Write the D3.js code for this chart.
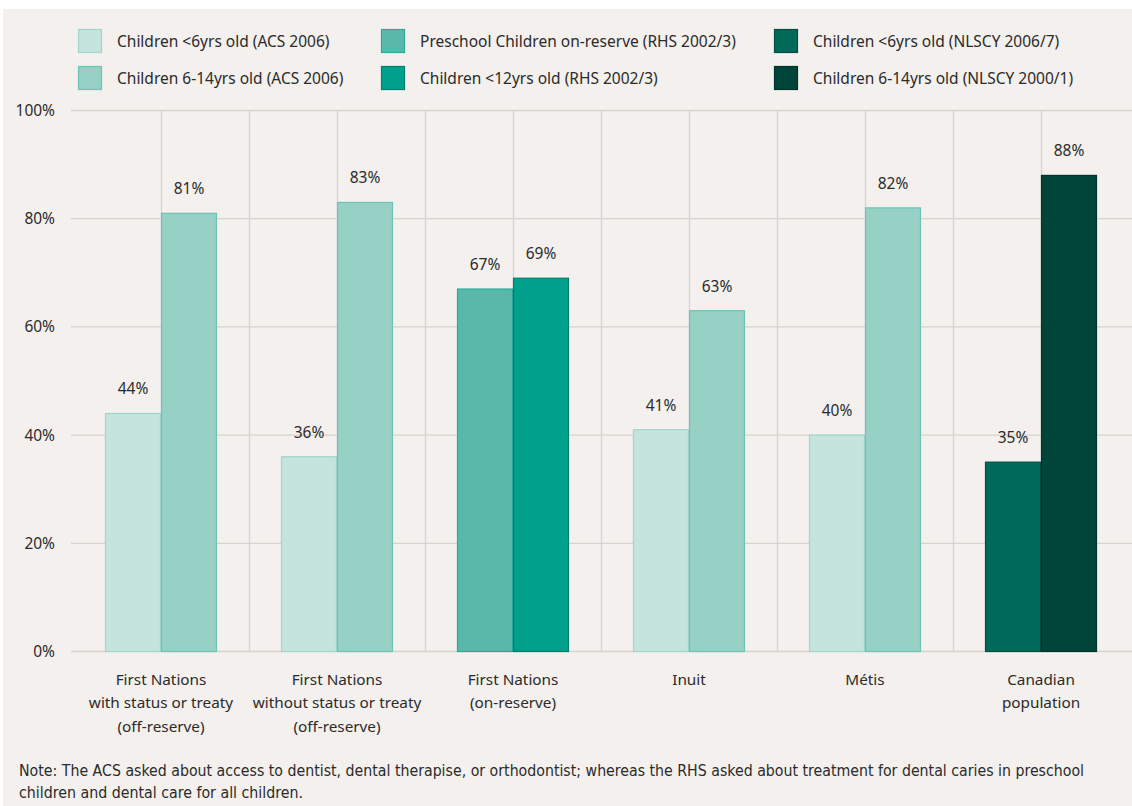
<!DOCTYPE html>
<html>
<head>
<meta charset="utf-8">
<script src="https://cdn.jsdelivr.net/npm/d3@7"></script>
<style>
  body { margin: 0; background: #ffffff; }
  svg text { font-family: "Noto Sans", "Open Sans", sans-serif; fill: #2b2b2b; }
</style>
</head>
<body>
<div id="chart"></div>
<script>
// chart data
var categories = [
  ["First Nations", "with status or treaty", "(off-reserve)"],
  ["First Nations", "without status or treaty", "(off-reserve)"],
  ["First Nations", "(on-reserve)"],
  ["Inuit"],
  ["Métis"],
  ["Canadian", "population"]
];
var seriesNames = [
  "Children <6yrs old (ACS 2006)",
  "Children 6-14yrs old (ACS 2006)",
  "Preschool Children on-reserve (RHS 2002/3)",
  "Children <12yrs old (RHS 2002/3)",
  "Children <6yrs old (NLSCY 2006/7)",
  "Children 6-14yrs old (NLSCY 2000/1)"
];
// which series each bar of a group belongs to
var leftSeries = [0, 0, 2, 0, 0, 4];
var rightSeries = [1, 1, 3, 1, 1, 5];
var leftValues = [44, 36, 67, 41, 40, 35];
var rightValues = [81, 83, 69, 63, 82, 88];
var yTicks = [0, 20, 40, 60, 80, 100];
var noteLines = [
  "Note: The ACS asked about access to dentist, dental therapise, or orthodontist; whereas the RHS asked about treatment for dental caries in preschool",
  "children and dental care for all children."
];

var fills = ["#c5e4dd", "#97d0c5", "#58b9ab", "#00a08c", "#00695a", "#00443a"];
var strokes = ["#9ed7cb", "#6cc4b5", "#2ca999", "#007f6f", "#004f43", "#00342c"];

var width = 1132, height = 806;

var svg = d3.select("#chart")
  .append("svg")
  .attr("width", width)
  .attr("height", height);

// panel background
svg.append("rect")
  .attr("x", 3).attr("y", 9)
  .attr("width", width - 3).attr("height", height - 9)
  .attr("fill", "#f3f0ed");

var ids = d3.range(categories.length);

var x = d3.scaleBand()
  .domain(ids)
  .range([73, 1129]);

var y = d3.scaleLinear()
  .domain([0, 100])
  .range([651.5, 110.5]);

var barW = 56;
var inset = (x.bandwidth() - 2 * barW) / 2;

// horizontal grid
svg.append("g")
  .selectAll("line")
  .data(yTicks)
  .join("line")
  .attr("x1", 71)
  .attr("x2", 1132)
  .attr("y1", function (d) { return y(d); })
  .attr("y2", function (d) { return y(d); })
  .attr("stroke", "#d8d3ce")
  .attr("stroke-width", 1.3);

// vertical grid at band centres and band edges
var vlines = [];
ids.forEach(function (i) {
  vlines.push(x(i) + x.bandwidth() / 2);
  if (i > 0) vlines.push(x(i));
});
svg.append("g")
  .selectAll("line")
  .data(vlines)
  .join("line")
  .attr("x1", function (d) { return d + 0.5; })
  .attr("x2", function (d) { return d + 0.5; })
  .attr("y1", y(100))
  .attr("y2", y(0))
  .attr("stroke", "#d8d3ce")
  .attr("stroke-width", 1.3);

// y axis labels
svg.append("g")
  .selectAll("text")
  .data(yTicks)
  .join("text")
  .attr("x", 55)
  .attr("y", function (d) { return y(d) + 5.5; })
  .attr("text-anchor", "end")
  .style("font-size", "15.5px")
  .text(function (d) { return d + "%"; });

// bars
var bars = [];
ids.forEach(function (i) {
  bars.push({ cat: i, pos: 0, s: leftSeries[i], v: leftValues[i] });
  bars.push({ cat: i, pos: 1, s: rightSeries[i], v: rightValues[i] });
});

svg.append("g")
  .selectAll("rect")
  .data(bars)
  .join("rect")
  .attr("x", function (d) { return x(d.cat) + inset + d.pos * barW + 0.5; })
  .attr("y", function (d) { return y(d.v); })
  .attr("width", barW - 1)
  .attr("height", function (d) { return y(0) - y(d.v); })
  .attr("fill", function (d) { return fills[d.s]; })
  .attr("stroke", function (d) { return strokes[d.s]; })
  .attr("stroke-width", 1.2);

svg.append("g")
  .selectAll("text")
  .data(bars)
  .join("text")
  .attr("x", function (d) { return x(d.cat) + inset + d.pos * barW + barW / 2; })
  .attr("y", function (d) { return y(d.v) - 19; })
  .attr("text-anchor", "middle")
  .style("font-size", "15.5px")
  .text(function (d) { return d.v + "%"; });

// category labels
var catG = svg.append("g")
  .selectAll("text")
  .data(ids)
  .join("text")
  .attr("text-anchor", "middle")
  .style("font-size", "15.3px");
catG.each(function (i) {
  d3.select(this).selectAll("tspan")
    .data(categories[i])
    .join("tspan")
    .attr("x", x(i) + x.bandwidth() / 2)
    .attr("y", function (d, k) { return 685 + k * 23.3; })
    .text(function (d) { return d; });
});

// legend
var legX = [80, 383, 776];
var legY = [41, 78];
var legend = svg.append("g")
  .selectAll("g")
  .data(seriesNames)
  .join("g")
  .attr("transform", function (d, i) {
    return "translate(" + legX[Math.floor(i / 2)] + "," + legY[i % 2] + ")";
  });
legend.append("rect")
  .attr("x", -1.5).attr("y", -11.5)
  .attr("width", 23).attr("height", 23)
  .attr("fill", function (d, i) { return fills[i]; })
  .attr("stroke", function (d, i) { return strokes[i]; })
  .attr("stroke-width", 1.2);
legend.append("text")
  .attr("x", 37)
  .attr("y", 5.5)
  .style("font-size", "15.5px")
  .text(function (d) { return d; });

// note
svg.append("g")
  .selectAll("text")
  .data(noteLines)
  .join("text")
  .attr("x", 19)
  .attr("y", function (d, i) { return 776 + i * 22; })
  .attr("textLength", function (d, i) { return i === 0 ? 1065 : 284; })
  .attr("lengthAdjust", "spacingAndGlyphs")
  .style("font-family", "'Liberation Sans Narrow', 'DejaVu Sans Condensed', sans-serif")
  .style("font-size", "15px")
  .text(function (d) { return d; });
</script>
</body>
</html>
